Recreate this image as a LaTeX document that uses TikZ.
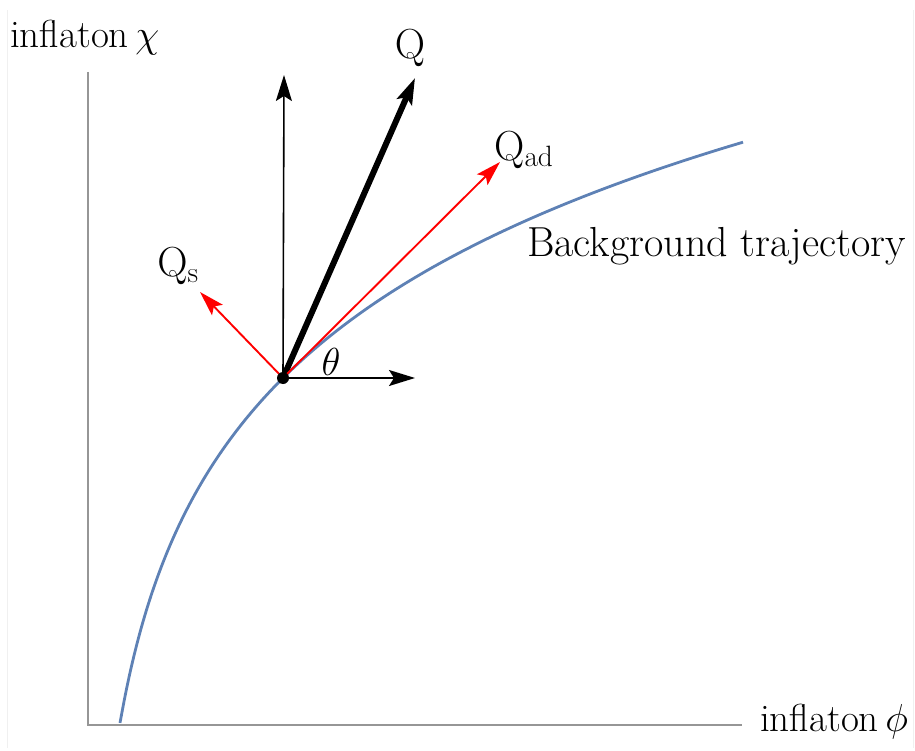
\RequirePackage{fix-cm}
\documentclass[tikz,border=0pt]{standalone}
\usepackage{amsmath}
\usepackage{tikz}
\usetikzlibrary{arrows.meta,positioning,calc}
\usepackage{xcolor}
\definecolor{trajblue}{RGB}{94,129,181}
\definecolor{axisgray}{RGB}{150,150,150}

\begin{document}
\begin{tikzpicture}[x=1pt, y=-1pt,
    axis/.style={draw=axisgray, line width=1.3pt},
    lbl/.style={font=\fontsize{39}{44}\selectfont, inner sep=0pt},
    biglbl/.style={font=\fontsize{42}{46}\selectfont, inner sep=0pt},
    blackarr/.style={-{Stealth[length=26pt, width=16pt, inset=5pt]}, line width=1.6pt},
    qarr/.style={-{Stealth[length=26pt, width=16pt, inset=5pt]}, line width=6pt},
    redarr/.style={-{Stealth[length=25pt, width=15pt, inset=5pt]}, red, line width=1.9pt}
]
    \useasboundingbox (0,0) rectangle (915,751);
    % faint frame
    \draw[gray!12, line width=1pt] (7,10) -- (7,748);
    \draw[gray!12, line width=1pt] (913,10) -- (913,748);

    % axes
    \coordinate (o) at (88,725);
    \coordinate (ytop) at (88,72);
    \coordinate (xend) at (742,725);
    \draw[axis] (ytop) -- (o) -- (xend);
    \node[lbl, anchor=west] (ylab) at (10,38) {inflaton\,$\chi$};
    \node[lbl, anchor=west] (xlab) at (760,722) {inflaton\,$\phi$};

    % background trajectory
    \draw[trajblue, line width=2.8pt] plot[domain=120:743, samples=120, smooth]
        (\x, {378-195.5*ln((\x-86.5)/196.5)});
    \node[biglbl, anchor=west] (traj) at (527,246) {Background trajectory};

    % vectors at the point
    \coordinate (p) at (283,378);
    \coordinate (up) at (284,75);
    \coordinate (right) at (415,378);
    \coordinate (q) at (415,78);
    \coordinate (qad) at (500,162);
    \coordinate (qs) at (200,292);
    \draw[blackarr] (p) -- (up);
    \draw[blackarr] (p) -- (right);
    \draw[qarr] (p) -- (q);
    \draw[redarr] (p) -- (qad);
    \draw[redarr] (p) -- (qs);
    \fill (p) circle (6pt);

    \node[biglbl] (qlab) at (410,48) {$\mathrm{Q}$};
    \node[biglbl, anchor=west] (qadlab) at (494,150) {$\mathrm{Q}_{\mathrm{ad}}$};
    \node[biglbl] (qslab) at (178,266) {$\mathrm{Q}_{\mathrm{s}}$};
    \node[lbl] (theta) at (331,362) {$\theta$};
\end{tikzpicture}
\end{document}
